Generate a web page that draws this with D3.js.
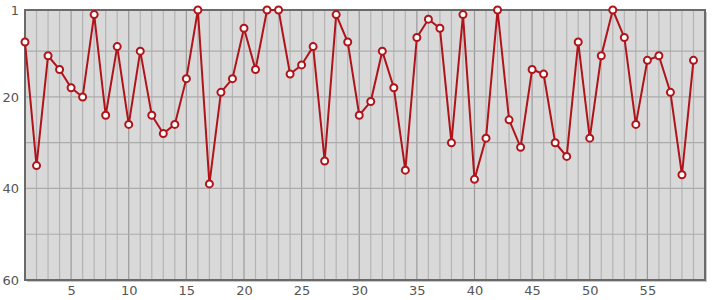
<!DOCTYPE html>
<html>
<head>
<meta charset="utf-8">
<script src="https://cdn.jsdelivr.net/npm/d3@7"></script>
<style>
  body { margin: 0; background: #fff; }
  text { font-family: "DejaVu Sans", sans-serif; }
</style>
</head>
<body>
<div id="chart_div"></div>
<script>
// data
const positions = d3.range(1, 60);
const ranks = [8, 35, 11, 14, 18, 20, 2, 24, 9, 26,
  10, 24, 28, 26, 16, 1, 39, 19, 16, 5,
  14, 1, 1, 15, 13, 9, 34, 2, 8, 24,
  21, 10, 18, 36, 7, 3, 5, 30, 2, 38,
  29, 1, 25, 31, 14, 15, 30, 33, 8, 29,
  11, 1, 7, 26, 12, 11, 19, 37, 12];
const x_ticks = [5, 10, 15, 20, 25, 30, 35, 40, 45, 50, 55];
const y_ticks = [1, 20, 40, 60];
const y_grid = [10, 20, 30, 40, 50];

const width = 715, height = 300;
const margin = {top: 10, right: 10, bottom: 20, left: 25};
const chart_width = width - margin.left - margin.right;
const chart_height = height - margin.top - margin.bottom;

const svg = d3.select("#chart_div")
  .append("svg")
    .attr("width", width)
    .attr("height", height);

const chart = svg.append("g")
    .attr("transform", `translate(${margin.left}, ${margin.top})`);

const x = d3.scaleLinear().domain([1, 60]).range([0, chart_width]);
const y = d3.scaleLinear().domain([1, 60]).range([0, chart_height]);

// shadow + background
chart.append("rect")
  .attr("x", 2).attr("y", 2)
  .attr("width", chart_width).attr("height", chart_height)
  .attr("fill", "#c8c8c8");
chart.append("rect")
  .attr("width", chart_width).attr("height", chart_height)
  .attr("fill", "#d9d9d9");

// vertical grid
chart.append("g")
  .selectAll("line")
  .data(d3.range(2, 60))
  .join("line")
    .attr("x1", d => x(d)).attr("x2", d => x(d))
    .attr("y1", 0).attr("y2", chart_height)
    .attr("stroke", d => d % 5 == 0 ? "#9a9a9a" : "#b4b4b4")
    .attr("stroke-width", 1.2);

// horizontal grid
chart.append("g")
  .selectAll("line")
  .data(y_grid)
  .join("line")
    .attr("x1", 0).attr("x2", chart_width)
    .attr("y1", d => y(d)).attr("y2", d => y(d))
    .attr("stroke", "#ababab")
    .attr("stroke-width", 1.2);

// frame
chart.append("rect")
  .attr("width", chart_width).attr("height", chart_height)
  .attr("fill", "none")
  .attr("stroke", "#6a6a6a")
  .attr("stroke-width", 2);

// axes
const y_axis = chart.append("g")
  .call(d3.axisLeft(y).tickValues(y_ticks).tickSize(0).tickPadding(6));
const x_axis = chart.append("g")
  .attr("transform", `translate(0, ${chart_height})`)
  .call(d3.axisBottom(x).tickValues(x_ticks).tickSize(0).tickPadding(6));
[x_axis, y_axis].forEach(a => {
  a.select(".domain").remove();
  a.selectAll("text").attr("fill", "#555").style("font-size", "13px");
});

// line + dots
const line = d3.line()
  .x((d, i) => x(positions[i]))
  .y(d => y(d));

chart.append("path")
  .datum(ranks)
  .attr("d", line)
  .attr("fill", "none")
  .attr("stroke", "#b0141a")
  .attr("stroke-width", 2);

chart.append("g")
  .selectAll("circle")
  .data(ranks)
  .join("circle")
    .attr("cx", (d, i) => x(positions[i]))
    .attr("cy", d => y(d))
    .attr("r", 3.5)
    .attr("fill", "#fff")
    .attr("stroke", "#b0141a")
    .attr("stroke-width", 2);
</script>
</body>
</html>
